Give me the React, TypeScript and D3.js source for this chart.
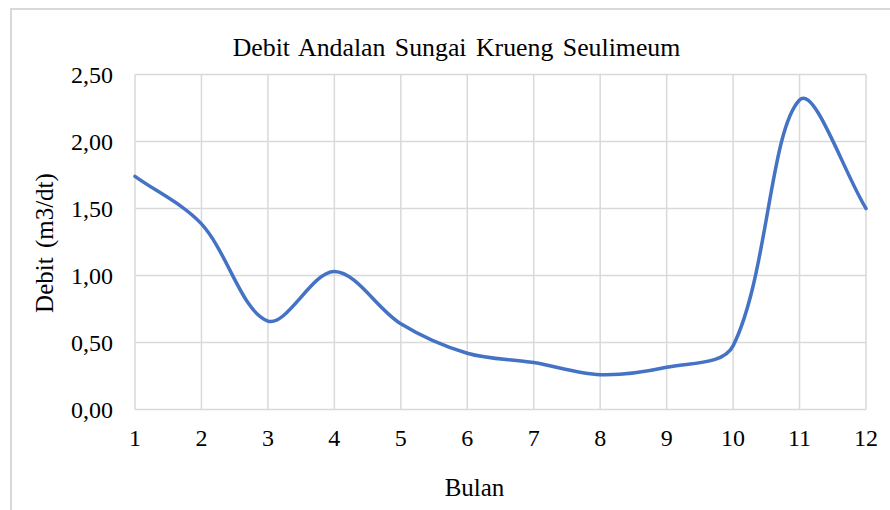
import React from "react";
import * as d3 from "d3";

const months = [1, 2, 3, 4, 5, 6, 7, 8, 9, 10, 11, 12];
const debit = [1.74, 1.385, 0.66, 1.03, 0.64, 0.42, 0.35, 0.26, 0.315, 0.475, 2.31, 1.5];
const yTicks = [0, 0.5, 1.0, 1.5, 2.0, 2.5];
const title = "Debit Andalan Sungai Krueng Seulimeum";
const xTitle = "Bulan";
const yTitle = "Debit (m3/dt)";

// Spreadsheet-style smoothed line: cubic Bezier segments whose control points follow
// the neighbour chord, scaled by the relative segment lengths.
function smoothPath(pts: [number, number][]): string {
  const p = d3.path();
  const n = pts.length;
  if (!n) return "";
  p.moveTo(pts[0][0], pts[0][1]);
  const dist = (a: [number, number], b: [number, number]) => Math.hypot(b[0] - a[0], b[1] - a[1]);
  for (let i = 0; i < n - 1; i++) {
    const p0 = pts[Math.max(0, i - 1)];
    const p1 = pts[i];
    const p2 = pts[i + 1];
    const p3 = pts[Math.min(n - 1, i + 2)];
    const d01 = dist(p0, p1), d12 = dist(p1, p2), d23 = dist(p2, p3);
    const s1 = d01 + d12 > 0 ? d12 / (d01 + d12) / 3 : 0;
    const s2 = d12 + d23 > 0 ? d12 / (d12 + d23) / 3 : 0;
    const c1x = p1[0] + (p2[0] - p0[0]) * s1;
    const c1y = p1[1] + (p2[1] - p0[1]) * s1;
    const c2x = p2[0] - (p3[0] - p1[0]) * s2;
    const c2y = p2[1] - (p3[1] - p1[1]) * s2;
    p.bezierCurveTo(c1x, c1y, c2x, c2y, p2[0], p2[1]);
  }
  return p.toString();
}

export default function App() {
  const W = 890, H = 510;
  const left = 135, right = 866, top = 74.5, bottom = 409.5;
  const x = d3.scaleLinear().domain([1, 12]).range([left, right]);
  const y = d3.scaleLinear().domain([0, 2.5]).range([bottom, top]);
  const pts = debit.map((d, i) => [x(months[i]), y(d)] as [number, number]);
  const font = "'Liberation Serif', 'Times New Roman', serif";
  const grid = "#d9d9d9";
  return (
    <div style={{ position: "fixed", left: 0, top: 0 }}>
      <svg width={W} height={H} style={{ display: "block", background: "#fff" }}>
        <rect x={11} y={9} width={900} height={520} fill="#fff" stroke={grid} strokeWidth={2} />
        <text x={456.5} y={55.5} textAnchor="middle" fontFamily={font} fontSize={25.8} wordSpacing={3} fill="#000">
          {title}
        </text>
        {months.map((m) => (
          <line key={"vx" + m} x1={x(m)} x2={x(m)} y1={top} y2={bottom} stroke={grid} strokeWidth={1.5} />
        ))}
        {yTicks.map((t) => (
          <line key={"hy" + t} x1={left} x2={right} y1={y(t)} y2={y(t)} stroke={grid} strokeWidth={1.5} />
        ))}
        {yTicks.map((t) => (
          <text key={"ty" + t} x={113} y={y(t) + 8} textAnchor="end" fontFamily={font} fontSize={24} fill="#000">
            {d3.format(".2f")(t).replace(".", ",")}
          </text>
        ))}
        {months.map((m) => (
          <text key={"tx" + m} x={x(m)} y={446} textAnchor="middle" fontFamily={font} fontSize={24} fill="#000">
            {m}
          </text>
        ))}
        <text x={474.5} y={495.5} textAnchor="middle" fontFamily={font} fontSize={25} fill="#000">
          {xTitle}
        </text>
        <text
          transform={`translate(52.5, 243) rotate(-90)`}
          textAnchor="middle"
          fontFamily={font}
          fontSize={25}
          wordSpacing={3}
          fill="#000"
        >
          {yTitle}
        </text>
        <path d={smoothPath(pts)} fill="none" stroke="#4472C4" strokeWidth={3.5} strokeLinecap="round" strokeLinejoin="round" />
      </svg>
    </div>
  );
}
